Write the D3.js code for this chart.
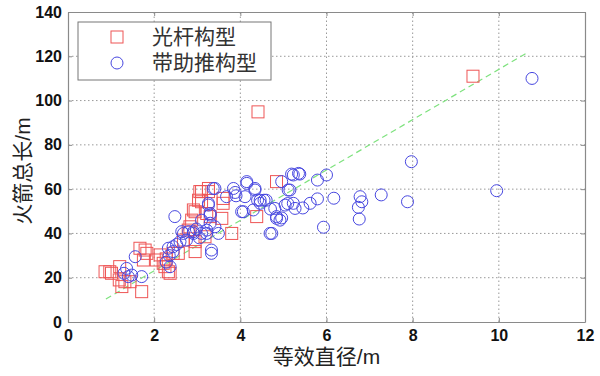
<!DOCTYPE html>
<html>
<head>
<meta charset="utf-8">
<script src="https://cdn.jsdelivr.net/npm/d3@7"></script>
<style>
  body { margin: 0; background: #fff; }
  text { font-family: "Liberation Sans", Arial, "Noto Sans CJK SC", sans-serif; }
</style>
</head>
<body>
<div id="chart"></div>
<script>
// data
const xTicks = [0, 2, 4, 6, 8, 10, 12];
const yTicks = [0, 20, 40, 60, 80, 100, 120, 140];

// 光杆构型 (red squares)
const barX = [0.86, 0.97, 1.01, 1.2, 1.19, 1.25, 1.32, 1.44, 1.71, 1.67, 1.79, 1.83, 1.75,
  2.05, 2.14, 2.21, 2.25, 2.28, 2.33, 2.37, 2.44, 2.56, 2.68, 2.79, 2.83, 2.87, 2.91, 2.95,
  2.95, 2.95, 3.03, 3.06, 3.1, 3.1, 3.18, 3.22, 3.26, 3.26, 3.3, 3.57, 3.6, 3.6, 3.8,
  4.38, 4.41, 4.84, 9.4];
const barY = [22.7, 22.7, 22.0, 25, 19, 16, 18.2, 18.2, 13.7, 33.3, 32.5, 31, 28,
  28, 30.3, 26.5, 25, 28.5, 22.7, 22, 31, 31, 37, 41.5, 43, 46, 50.6, 31.8,
  36.3, 49.8, 55, 58.9, 54.3, 58.9, 38.5, 49, 60.3, 58.9, 47.6, 46.8, 53.6, 55.8, 40,
  47.6, 94.9, 63.4, 111];

// 带助推构型 (blue circles)
const boostX = [1.36, 1.4, 1.48, 1.56, 1.71, 1.3, 2.28, 2.33, 2.35, 2.37, 2.44, 2.44, 2.48,
  2.52, 2.6, 2.64, 2.68, 2.75, 2.8, 2.91, 2.91, 2.98, 3.05, 3.1, 3.1, 3.22, 3.22, 3.26,
  3.26, 3.3, 3.3, 3.3, 3.33, 3.33, 3.37, 3.41, 3.41, 3.49, 3.68, 3.84, 3.88, 3.9, 4.03,
  4.07, 4.11, 4.15, 4.15, 4.3, 4.34, 4.34, 4.4, 4.46, 4.46, 4.55, 4.6, 4.69, 4.73, 4.7,
  4.8, 4.84, 4.84, 4.92, 4.96, 4.96, 5.04, 5.1, 5.11, 5.15, 5.19, 5.23, 5.23, 5.27, 5.35,
  5.38, 5.45, 5.62, 5.79, 5.79, 5.93, 6.0, 6.17, 6.74, 6.76, 6.78, 6.82, 7.27, 7.88, 7.97,
  9.95, 10.77];
const boostY = [24.2, 20.5, 21.2, 29.5, 20.5, 22, 27, 33.3, 30, 25, 31.8, 34, 47.6,
  35, 36.3, 40.8, 40, 37, 40.8, 40, 40.8, 42, 38, 46, 40, 40, 41.5, 52.8,
  53.6, 44.6, 48.3, 49, 32.5, 31, 60.3, 60.3, 43, 40, 56.6, 60.3, 58.5, 57, 49.8,
  49.8, 56.6, 63.4, 62.6, 50.6, 59.6, 60.3, 55, 55, 53.6, 55, 55, 40, 40, 51,
  51.3, 47.6, 46.8, 46, 47, 63.4, 52.8, 53.5, 59.6, 59.6, 66.8, 66.4, 53.6, 51.3, 67.1,
  66.8, 51.5, 53.6, 55.6, 64.1, 42.8, 66.4, 55.9, 51.8, 46.5, 56.6, 54.3, 57.4, 54.3, 72.4,
  59.3, 110];

// fitted trend line end points
const fitX = [0.88, 10.65];
const fitY = [10.4, 121.5];

const width = 600, height = 376;
const margin = {left: 68, right: 15, top: 12, bottom: 54};
const plotW = width - margin.left - margin.right;
const plotH = height - margin.top - margin.bottom;

const svg = d3.select("#chart").append("svg")
    .attr("width", width)
    .attr("height", height);

const x = d3.scaleLinear().domain([0, 12]).range([margin.left, margin.left + plotW]);
const y = d3.scaleLinear().domain([0, 140]).range([margin.top + plotH, margin.top]);

// dotted grid
svg.append("g").selectAll("line")
    .data(xTicks.slice(1, -1))
    .join("line")
    .attr("x1", d => x(d)).attr("x2", d => x(d))
    .attr("y1", y(0)).attr("y2", y(140))
    .attr("stroke", "#999").attr("stroke-dasharray", "1.5,2.5");
svg.append("g").selectAll("line")
    .data(yTicks.slice(1, -1))
    .join("line")
    .attr("y1", d => y(d)).attr("y2", d => y(d))
    .attr("x1", x(0)).attr("x2", x(12))
    .attr("stroke", "#999").attr("stroke-dasharray", "1.5,2.5");

// axes (ticks pointing inward, like matlab)
const xAxis = svg.append("g")
    .attr("transform", `translate(0,${y(0)})`)
    .call(d3.axisBottom(x).tickValues(xTicks).tickSizeInner(-4).tickSizeOuter(0).tickPadding(8));
const yAxis = svg.append("g")
    .attr("transform", `translate(${x(0)},0)`)
    .call(d3.axisLeft(y).tickValues(yTicks).tickSizeInner(-4).tickSizeOuter(0).tickPadding(6));
svg.append("g")
    .attr("transform", `translate(0,${y(140)})`)
    .call(d3.axisTop(x).tickValues(xTicks).tickSizeInner(-4).tickSizeOuter(0).tickFormat(""));
svg.append("g")
    .attr("transform", `translate(${x(12)},0)`)
    .call(d3.axisRight(y).tickValues(yTicks).tickSizeInner(-4).tickSizeOuter(0).tickFormat(""));

svg.selectAll(".domain").attr("stroke", "#8a8a8a").attr("stroke-width", 1.2);
svg.selectAll(".tick line").attr("stroke", "#8a8a8a");
svg.selectAll(".tick text")
    .attr("fill", "#111")
    .style("font-size", "16px")
    .style("font-weight", "bold");

// trend line
svg.append("line")
    .attr("x1", x(fitX[0])).attr("y1", y(fitY[0]))
    .attr("x2", x(fitX[1])).attr("y2", y(fitY[1]))
    .attr("stroke", "#7ee27e").attr("stroke-width", 1.2)
    .attr("stroke-dasharray", "6,4");

// markers
const s = 12;
svg.append("g").selectAll("rect")
    .data(barX.map((d, i) => [d, barY[i]]))
    .join("rect")
    .attr("x", d => x(d[0]) - s / 2)
    .attr("y", d => y(d[1]) - s / 2)
    .attr("width", s).attr("height", s)
    .attr("fill", "none").attr("stroke", "#ee5555").attr("stroke-width", 1);

svg.append("g").selectAll("circle")
    .data(boostX.map((d, i) => [d, boostY[i]]))
    .join("circle")
    .attr("cx", d => x(d[0]))
    .attr("cy", d => y(d[1]))
    .attr("r", s / 2)
    .attr("fill", "none").attr("stroke", "#4848e0").attr("stroke-width", 1);

// legend
const legend = svg.append("g");
legend.append("rect")
    .attr("x", 78).attr("y", 22).attr("width", 193).attr("height", 58)
    .attr("fill", "#fff").attr("stroke", "#777");
legend.append("rect")
    .attr("x", 117 - s / 2).attr("y", 37 - s / 2).attr("width", s).attr("height", s)
    .attr("fill", "none").attr("stroke", "#ee5555");
legend.append("circle")
    .attr("cx", 117).attr("cy", 63).attr("r", s / 2)
    .attr("fill", "none").attr("stroke", "#4848e0");
legend.append("text").attr("x", 152).attr("y", 44)
    .style("font-size", "21px").attr("fill", "#333").text("光杆构型");
legend.append("text").attr("x", 152).attr("y", 70)
    .style("font-size", "21px").attr("fill", "#333").text("带助推构型");

// axis titles
svg.append("text")
    .attr("x", margin.left + plotW / 2).attr("y", 364)
    .attr("text-anchor", "middle")
    .style("font-size", "21px").attr("fill", "#222")
    .text("等效直径/m");
svg.append("text")
    .attr("transform", `translate(30,${margin.top + plotH / 2 + 4}) rotate(-90)`)
    .attr("text-anchor", "middle")
    .style("font-size", "21px").attr("fill", "#222")
    .text("火箭总长/m");
</script>
</body>
</html>
